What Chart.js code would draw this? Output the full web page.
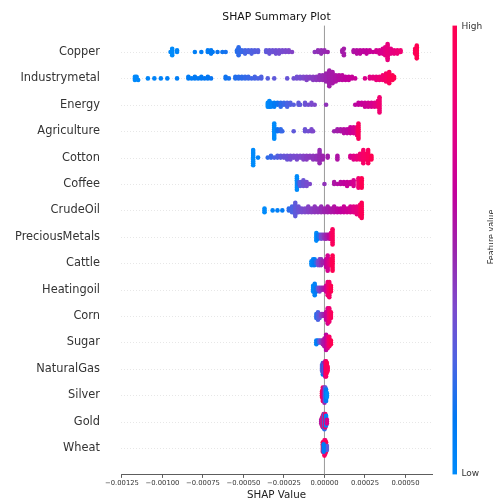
<!DOCTYPE html>
<html>
<head>
<meta charset="utf-8">
<title>SHAP Summary Plot</title>
<script src="https://cdn.jsdelivr.net/npm/chart.js@4.4.1/dist/chart.umd.min.js"></script>
<style>
  html, body { margin: 0; padding: 0; background: #ffffff; }
  #wrap { width: 493px; height: 504px; }
</style>
</head>
<body>
<div id="wrap"><canvas id="shap" width="493" height="504"></canvas></div>
<script>
// features, top row first
const features = ['Copper', 'Industrymetal', 'Energy', 'Agriculture', 'Cotton', 'Coffee', 'CrudeOil',
    'PreciousMetals', 'Cattle', 'Heatingoil', 'Corn', 'Sugar', 'NaturalGas', 'Silver', 'Gold', 'Wheat'];

const xTicks = [-0.00125, -0.001, -0.00075, -0.0005, -0.00025, 0, 0.00025, 0.0005];

// each entry: [SHAP value in 1e-5 units, feature value 0..1 (low..high), number of samples]
const copper = [
    [-95, 0.02, 1], [-94, 0.0, 5], [-91, 0.04, 2], [-80, 0.08, 1], [-76, 0.1, 1], [-72, 0.1, 2], [-70, 0.12, 3],
    [-69, 0.12, 1], [-66, 0.14, 1], [-63, 0.15, 1], [-61, 0.16, 1],
    [-54, 0.18, 2], [-53, 0.2, 6], [-51, 0.22, 2], [-49, 0.24, 3], [-47, 0.25, 2], [-45, 0.26, 3], [-43, 0.27, 2], [-41, 0.28, 2],
    [-36, 0.3, 2], [-34, 0.32, 3], [-32, 0.33, 2], [-30, 0.34, 3], [-28, 0.35, 3], [-26, 0.36, 2], [-24, 0.37, 2], [-22, 0.38, 2], [-20, 0.4, 1],
    [-6, 0.44, 1], [-4, 0.46, 2], [-2, 0.47, 3], [0, 0.48, 2], [2, 0.5, 1],
    [11, 0.52, 2], [12, 0.53, 3],
    [18, 0.56, 2], [20, 0.58, 3], [22, 0.6, 3], [24, 0.61, 2], [26, 0.62, 3], [28, 0.64, 2], [30, 0.65, 1],
    [32, 0.68, 2], [34, 0.7, 3], [36, 0.72, 4], [37.5, 0.76, 6], [39, 0.8, 11], [41, 0.78, 4], [43, 0.8, 3], [45, 0.82, 3], [47, 0.85, 2],
    [56, 0.95, 4], [57, 1.0, 9]
];
const industrymetal = [
    [-117, 0.0, 3], [-116, 0.02, 2], [-115, 0.02, 1], [-109, 0.04, 1], [-105, 0.05, 1], [-101, 0.06, 1], [-97, 0.07, 1], [-91, 0.08, 1],
    [-84, 0.1, 2], [-82, 0.1, 1], [-80, 0.11, 2], [-78, 0.12, 1], [-76, 0.12, 2], [-74, 0.13, 1], [-72, 0.13, 2], [-70, 0.14, 1],
    [-61, 0.15, 2], [-59, 0.16, 1],
    [-55, 0.18, 2], [-53, 0.19, 2], [-51, 0.2, 2], [-49, 0.21, 2], [-47, 0.22, 2], [-45, 0.23, 1], [-43, 0.24, 2], [-41, 0.25, 1], [-39, 0.26, 2],
    [-35, 0.28, 1], [-31, 0.3, 1], [-23, 0.32, 1],
    [-19, 0.34, 1], [-17, 0.35, 2], [-15, 0.36, 2], [-13, 0.38, 2], [-11, 0.4, 3], [-9, 0.41, 2], [-7, 0.42, 3], [-5, 0.44, 3], [-3, 0.46, 4], [-1, 0.48, 4],
    [1, 0.5, 6], [3, 0.52, 11], [5, 0.54, 8], [7, 0.56, 5], [9, 0.58, 4], [11, 0.6, 4], [13, 0.62, 3], [15, 0.63, 3], [17, 0.64, 2], [19, 0.65, 1],
    [25, 0.72, 1], [28, 0.75, 2], [30, 0.78, 2], [32, 0.8, 3], [34, 0.82, 3], [36, 0.85, 4], [38, 0.9, 6], [40, 0.95, 8], [42, 1.0, 4], [43, 1.0, 2]
];
const energy = [
    [-35, 0.0, 3], [-34, 0.02, 4], [-33, 0.05, 3], [-31, 0.1, 3], [-29, 0.15, 2], [-27, 0.2, 3], [-25, 0.22, 2], [-23, 0.25, 3],
    [-21, 0.27, 2], [-19, 0.28, 1], [-16, 0.3, 2], [-15, 0.3, 1], [-12, 0.33, 2], [-10, 0.35, 1], [-8, 0.37, 2], [-6, 0.38, 1],
    [1, 0.45, 1], [19, 0.6, 1], [21, 0.62, 2], [23, 0.64, 2], [25, 0.66, 3], [27, 0.68, 3], [29, 0.7, 3], [31, 0.75, 3],
    [33, 0.8, 4], [34, 0.85, 9]
];
const agriculture = [
    [-31, 0.0, 9], [-29, 0.15, 2], [-27, 0.2, 2], [-26, 0.22, 1], [-19, 0.3, 1], [-12, 0.33, 2], [-10, 0.35, 1], [-8, 0.37, 2],
    [-7, 0.38, 1], [6, 0.5, 1], [8, 0.52, 2], [10, 0.55, 2], [12, 0.58, 3], [14, 0.6, 3], [16, 0.65, 4], [18, 0.7, 4],
    [20, 0.8, 5], [21, 0.95, 9]
];
const cotton = [
    [-44, 0.0, 9], [-41, 0.05, 1], [-35, 0.2, 1], [-33, 0.22, 2], [-31, 0.25, 1], [-29, 0.27, 2], [-27, 0.3, 2], [-25, 0.32, 2],
    [-23, 0.33, 3], [-21, 0.35, 3], [-19, 0.36, 2], [-17, 0.37, 3], [-15, 0.38, 2], [-13, 0.4, 3], [-11, 0.42, 3], [-9, 0.43, 2],
    [-7, 0.44, 3], [-5, 0.46, 3], [-3, 0.48, 8], [-1, 0.5, 3], [2, 0.52, 2], [8, 0.56, 3], [16, 0.7, 2], [18, 0.75, 3],
    [20, 0.8, 3], [22, 0.85, 4], [24, 0.9, 8], [26, 0.92, 4], [27, 0.95, 8], [29, 1.0, 3]
];
const coffee = [
    [-17, 0.0, 8], [-16, 0.2, 2], [-15, 0.3, 3], [-13, 0.33, 4], [-11, 0.36, 3], [-9, 0.38, 1], [0, 0.45, 1], [6, 0.55, 2],
    [8, 0.58, 1], [10, 0.6, 2], [12, 0.62, 2], [14, 0.64, 3], [16, 0.66, 2], [18, 0.7, 4], [21, 0.85, 6], [23, 1.0, 6]
];
const crudeoil = [
    [-37, 0.0, 3], [-32, 0.05, 1], [-29, 0.08, 1], [-26, 0.1, 1], [-22, 0.2, 2], [-20, 0.25, 4], [-18, 0.3, 8], [-16, 0.33, 4],
    [-14, 0.36, 3], [-12, 0.38, 3], [-10, 0.4, 4], [-8, 0.42, 3], [-6, 0.44, 4], [-4, 0.45, 3], [-2, 0.47, 4], [0, 0.5, 3],
    [2, 0.52, 4], [4, 0.55, 3], [6, 0.57, 4], [8, 0.6, 3], [10, 0.62, 3], [12, 0.65, 4], [14, 0.67, 3], [16, 0.7, 4],
    [18, 0.75, 4], [20, 0.8, 5], [22, 0.88, 7], [23, 0.98, 9]
];
const preciousmetals = [
    [-5, 0.0, 5], [-4, 0.1, 3], [-3, 0.2, 2], [-2, 0.35, 3], [-1, 0.4, 2], [0, 0.45, 3], [1, 0.5, 3], [2, 0.55, 2],
    [3, 0.6, 3], [4, 0.75, 4], [5, 0.95, 9]
];
const cattle = [
    [-8, 0.0, 3], [-7, 0.05, 4], [-6, 0.1, 4], [-5, 0.2, 2], [-4, 0.35, 3], [-3, 0.4, 4], [-2, 0.45, 4], [-1, 0.5, 2],
    [1, 0.6, 5], [2, 0.7, 9], [3, 0.75, 3], [4, 0.85, 4], [5, 1.0, 9]
];
const heatingoil = [
    [-7, 0.0, 4], [-6, 0.05, 7], [-5, 0.15, 3], [-4, 0.3, 2], [-3, 0.4, 3], [-2, 0.45, 2], [-1, 0.5, 2], [0, 0.55, 2],
    [1, 0.65, 4], [2, 0.8, 8], [3, 0.9, 9], [4, 1.0, 4]
];
const corn = [
    [-5, 0.2, 3], [-4, 0.25, 5], [-3, 0.3, 3], [-2, 0.4, 2], [-1, 0.45, 2], [0, 0.5, 2], [1, 0.6, 5], [2, 0.7, 9],
    [3, 0.85, 8], [4, 0.95, 4]
];
const sugar = [
    [-5, 0.05, 3], [-4, 0.15, 2], [-3, 0.3, 2], [-2, 0.4, 2], [-1, 0.5, 3], [0, 0.55, 5], [1, 0.6, 9], [2, 0.75, 7],
    [3, 0.9, 6], [4, 1.0, 3]
];
const naturalgas = [
    [-1.5, 0.3, 4], [-1, 0.1, 7], [-0.5, 0.5, 6], [0, 0.2, 5], [0.5, 0.6, 9], [1, 0.9, 9], [1.5, 1.0, 6], [2, 0.95, 3]
];
const silver = [
    [-1.5, 1.0, 4], [-1, 0.9, 8], [-0.5, 0.7, 6], [0, 0.5, 9], [0.5, 0.3, 8], [1, 0.1, 7], [1.5, 0.0, 3]
];
const gold = [
    [-2, 0.55, 3], [-1.5, 0.8, 5], [-1, 0.4, 7], [-0.5, 0.95, 8], [0, 0.2, 9], [0.5, 0.9, 8], [1, 0.05, 6], [1.5, 0.7, 3]
];
const wheat = [
    [-1, 1.0, 6], [0, 0.95, 9], [0.5, 0.85, 8], [1, 1.0, 6], [1.5, 0.3, 3], [-0.5, 0.1, 5]
];

const rows = [copper, industrymetal, energy, agriculture, cotton, coffee, crudeoil, preciousmetals,
    cattle, heatingoil, corn, sugar, naturalgas, silver, gold, wheat];

// red_blue colormap (low -> high)
const cmap = [
    [0, 0, 139, 251], [0.125, 0, 120, 243], [0.25, 75, 99, 227], [0.375, 125, 73, 204], [0.5, 155, 36, 173],
    [0.625, 194, 0, 156], [0.75, 224, 0, 134], [0.875, 245, 0, 108], [1, 255, 0, 81]
];

function colorFor(t) {
    t = Math.max(0, Math.min(1, t));
    for (let i = 1; i < cmap.length; i++) {
        if (t <= cmap[i][0]) {
            const a = cmap[i - 1], b = cmap[i];
            const k = (t - a[0]) / (b[0] - a[0]);
            const c = [1, 2, 3].map(j => Math.round(a[j] + (b[j] - a[j]) * k));
            return `rgb(${c[0]},${c[1]},${c[2]})`;
        }
    }
    return 'rgb(255,0,81)';
}

// beeswarm layout, same idea as shap: bin the values and stack points alternately up/down
function swarm(row, pos) {
    const pts = [];
    row.forEach(([s, f, n]) => {
        for (let i = 0; i < n; i++) pts.push({ s, f });
    });
    const lo = Math.min(...pts.map(p => p.s));
    const hi = Math.max(...pts.map(p => p.s));
    const q = pts.map(p => Math.round(100 * (p.s - lo) / (hi - lo + 1e-8)));
    const order = pts.map((p, i) => i).sort((a, b) => q[a] - q[b] || a - b);
    const ys = new Array(pts.length).fill(0);
    let layer = 0, last = -1;
    for (const i of order) {
        if (q[i] !== last) layer = 0;
        ys[i] = Math.ceil(layer / 2) * ((layer % 2) * 2 - 1);
        layer++;
        last = q[i];
    }
    const m = Math.max(...ys.map(v => v + 1));
    return pts.map((p, i) => ({ x: p.s * 1e-5, y: pos + ys[i] * 0.9 * 0.4 / m, f: p.f }));
}

const n = features.length;
const datasets = [];
// least important drawn first, like shap
for (let r = n - 1; r >= 0; r--) {
    const pts = swarm(rows[r], n - 1 - r);
    datasets.push({
        label: features[r],
        data: pts.map(p => ({ x: p.x, y: p.y })),
        pointBackgroundColor: pts.map(p => colorFor(p.f)),
        pointBorderWidth: 0,
        pointRadius: 2.3,
        pointHoverRadius: 2.3
    });
}

const font = 'DejaVu Sans';

// reference lines behind the dots, colour bar and title on top
const decorations = {
    id: 'decorations',
    beforeDatasetsDraw(chart) {
        const { ctx, chartArea: a, scales } = chart;
        ctx.save();
        ctx.strokeStyle = '#cccccc';
        ctx.lineWidth = 0.6;
        ctx.setLineDash([0.8, 2.2]);
        for (let i = 0; i < n; i++) {
            const y = Math.round(scales.y.getPixelForValue(i)) + 0.5;
            ctx.beginPath();
            ctx.moveTo(a.left, y);
            ctx.lineTo(a.right, y);
            ctx.stroke();
        }
        ctx.setLineDash([]);
        ctx.strokeStyle = '#999999';
        ctx.lineWidth = 1;
        const x0 = scales.x.getPixelForValue(0);
        ctx.beginPath();
        ctx.moveTo(x0, a.top);
        ctx.lineTo(x0, a.bottom);
        ctx.stroke();
        ctx.restore();
    },
    afterDraw(chart) {
        const { ctx, chartArea: a } = chart;
        ctx.save();
        // title
        ctx.fillStyle = '#111111';
        ctx.font = `10.8px "${font}"`;
        ctx.textAlign = 'center';
        ctx.textBaseline = 'alphabetic';
        ctx.fillText('SHAP Summary Plot', (a.left + a.right) / 2, 19.7);

        // colour bar
        const bx = 452.5, bw = 4.5;
        const g = ctx.createLinearGradient(0, a.bottom, 0, a.top);
        cmap.forEach(c => g.addColorStop(c[0], `rgb(${c[1]},${c[2]},${c[3]})`));
        ctx.fillStyle = g;
        ctx.fillRect(bx, a.top, bw, a.bottom - a.top);

        ctx.fillStyle = '#333333';
        ctx.font = `9px "${font}"`;
        ctx.textAlign = 'left';
        ctx.textBaseline = 'middle';
        ctx.fillText('High', 461.5, a.top + 1);
        ctx.fillText('Low', 461.5, a.bottom - 1);

        ctx.translate(493.5, 237);
        ctx.rotate(-Math.PI / 2);
        ctx.textAlign = 'center';
        ctx.textBaseline = 'alphabetic';
        ctx.font = `8px "${font}"`;
        ctx.fillText('Feature value', 0, 0);
        ctx.restore();
    }
};

new Chart(document.getElementById('shap'), {
    type: 'scatter',
    data: { datasets },
    options: {
        responsive: false,
        animation: false,
        events: [],
        layout: { padding: { top: 25.6, right: 61, left: 0, bottom: 0 } },
        plugins: {
            legend: { display: false },
            tooltip: { enabled: false }
        },
        scales: {
            x: {
                type: 'linear',
                min: -0.001256,
                max: 0.000664,
                afterBuildTicks: scale => { scale.ticks = xTicks.map(v => ({ value: v })); },
                afterFit: scale => { scale.height = 29.6; },
                grid: { drawOnChartArea: false, drawTicks: true, tickLength: 3.5, tickColor: '#333333', tickWidth: 0.8 },
                border: { display: true, color: '#333333', width: 0.8 },
                ticks: {
                    padding: 1.5,
                    color: '#333333',
                    font: { family: font, size: 6.8 },
                    maxRotation: 0,
                    autoSkip: false,
                    callback: v => (Math.abs(v) < 1e-12 ? '0.00000' : v.toFixed(5).replace('-', '\u2212'))
                },
                title: {
                    display: true,
                    text: 'SHAP Value',
                    color: '#222222',
                    font: { family: font, size: 10.3 },
                    padding: { top: 2, bottom: 2 }
                }
            },
            y: {
                type: 'linear',
                min: -1,
                max: n,
                afterBuildTicks: scale => { scale.ticks = features.map((f, i) => ({ value: n - 1 - i })); },
                afterFit: scale => { scale.width = 121; },
                grid: { display: false },
                border: { display: false },
                ticks: {
                    padding: 13,
                    color: '#333333',
                    autoSkip: false,
                    font: { family: font, size: 11.4 },
                    callback: v => features[n - 1 - v]
                }
            }
        }
    },
    plugins: [decorations]
});
</script>
</body>
</html>
